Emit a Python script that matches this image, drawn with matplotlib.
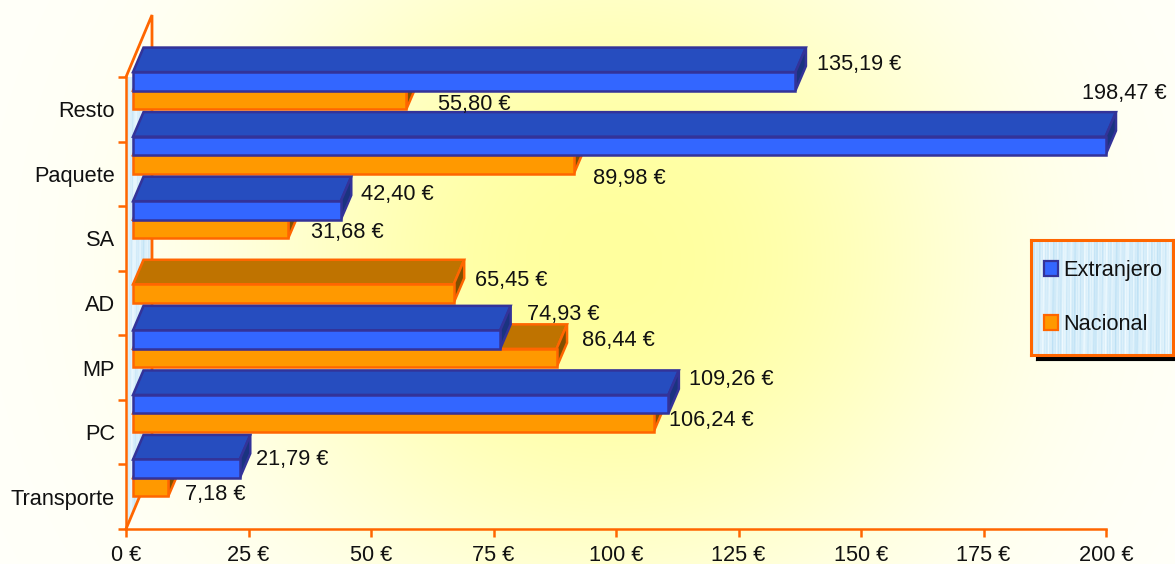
import numpy as np
import matplotlib
matplotlib.use("Agg")
import matplotlib.pyplot as plt
from matplotlib.patches import Polygon, Patch

plt.rcParams['font.family'] = ['Liberation Sans', 'DejaVu Sans']

# data
categories = ['Transporte', 'PC', 'MP', 'AD', 'SA', 'Paquete', 'Resto']
extranjero = [21.79, 109.26, 74.93, np.nan, 42.40, 198.47, 135.19]
nacional = [7.18, 106.24, 86.44, 65.45, 31.68, 89.98, 55.80]
xticks = [0, 25, 50, 75, 100, 125, 150, 175, 200]

# label offsets from the bar end, in pixels
extOffsets = [(16, 9), (21, 25), (27, 25), (0, 0), (20, 16), (-24, 52), (22, 17)]
nacOffsets = [(17, -7), (15, 2), (25, 18), (21, 13), (23, -4), (19, -14), (32, -5)]

# figure geometry in pixels
W, H = 1175, 564
left, right, bottom, top = 126, 1106, 529, 77
pxX = (right - left) / 200
pxY = (bottom - top) / 7

# 3d look
depthX = 10.5 / pxX
depthY = 24.5 / pxY
shiftX = 7 / pxX
shiftY = 0.29
barH = 18.5 / pxY
wallX = 26 / pxX
wallY = 62 / pxY

ORANGE = '#FF6600'
TEXT = '#111111'
FS = 15.7
blue = dict(front='#3366FF', top='#264DBF', side='#1A3380', edge='#333399')
orange = dict(front='#FF9900', top='#BF7300', side='#805000', edge='#FF6600')


def waterTexture(w, h):
    # pale blue vertical streaks
    x = np.arange(w)[None, :]
    y = np.arange(h)[:, None]
    s = (np.sin(x * 0.9 + 0.012 * y) + 0.7 * np.sin(x * 2.3 + 1 + 0.02 * y)
         + 0.6 * np.sin(x * 0.31 + 0.008 * y) + 0.4 * np.sin(x * 4.1 + y * 0.03))
    s = (s - s.min()) / (s.max() - s.min())
    light = np.array([0.95, 0.985, 1.0])
    dark = np.array([0.74, 0.88, 0.96])
    return light[None, None, :] * (1 - s[..., None]) + dark[None, None, :] * s[..., None]


def drawBar(ax, value, y, style, z):
    if np.isnan(value):
        return
    x0 = shiftX
    x1 = shiftX + value
    y1 = y + barH
    edge = style['edge']
    ax.add_patch(Polygon([(x0, y1), (x1, y1), (x1 + depthX, y1 + depthY), (x0 + depthX, y1 + depthY)],
                         closed=True, fc=style['top'], ec=edge, lw=1.8, zorder=z, clip_on=False))
    ax.add_patch(Polygon([(x1, y), (x1, y1), (x1 + depthX, y1 + depthY), (x1 + depthX, y + depthY)],
                         closed=True, fc=style['side'], ec=edge, lw=1.8, zorder=z, clip_on=False))
    ax.barh(y, value, height=barH, left=x0, align='edge', color=style['front'], edgecolor=edge,
            linewidth=1.8, zorder=z + 0.1, clip_on=False)


fig = plt.figure(figsize=(W / 100, H / 100), dpi=100)

# background gradient
axBg = fig.add_axes([0, 0, 1, 1])
axBg.axis('off')
gx, gy = np.meshgrid(np.arange(W), np.arange(H))
r = np.sqrt(((gx - 610) / 340) ** 2 + ((gy - 260) / 320) ** 2)
t = np.exp(-r ** 2.4 * 0.9)[..., None]
edgeCol = np.array([1.0, 1.0, 0.98])
midCol = np.array([1.0, 1.0, 0.62])
axBg.imshow(edgeCol * (1 - t) + midCol * t, aspect='auto')

# main axes
ax = fig.add_axes([left / W, 1 - bottom / H, (right - left) / W, (bottom - top) / H])
ax.patch.set_visible(False)
ax.set_xlim(0, 200)
ax.set_ylim(0, 7)

# side wall
wall = Polygon([(0, 0), (wallX, wallY), (wallX, 7 + wallY), (0, 7)], closed=True, fc='none',
               ec='none', transform=ax.transData)
ax.add_patch(wall)
wall.set_clip_on(False)
im = ax.imshow(waterTexture(30, 520), extent=(0, wallX, 0, 7 + wallY), aspect='auto', zorder=1,
               interpolation='bilinear')
im.set_clip_path(wall)
ax.set_xlim(0, 200)
ax.set_ylim(0, 7)
ax.plot([0, wallX, wallX], [7, 7 + wallY, wallY], color=ORANGE, lw=2, zorder=2, clip_on=False,
        solid_joinstyle='miter')
ax.plot([0, wallX], [0, wallY], color=ORANGE, lw=2, zorder=2, clip_on=False)

# bars, back to front
z = 3
for k in range(len(categories) - 1, -1, -1):
    yBase = k + 0.5 + shiftY
    drawBar(ax, nacional[k], yBase - barH, orange, z)
    drawBar(ax, extranjero[k], yBase, blue, z + 1)
    z += 2

# value labels
for k in range(len(categories)):
    yBase = k + 0.5 + shiftY
    for value, off, yc in ((extranjero[k], extOffsets[k], yBase + barH / 2),
                           (nacional[k], nacOffsets[k], yBase - barH / 2)):
        if np.isnan(value):
            continue
        ax.annotate(f'{value:.2f} €'.replace('.', ','), (value + shiftX, yc), xytext=off,
                    textcoords='offset pixels', ha='left', va='center', fontsize=FS,
                    color=TEXT, zorder=50, annotation_clip=False)

# axes
for s in ('top', 'right'):
    ax.spines[s].set_visible(False)
for s in ('left', 'bottom'):
    ax.spines[s].set_color(ORANGE)
    ax.spines[s].set_linewidth(1.8)
    ax.spines[s].set_zorder(2.5)
ax.set_xticks(xticks)
ax.set_xticklabels([f'{v} €' for v in xticks])
ax.set_yticks(range(8))
ax.set_yticklabels([])
ax.set_yticks(np.arange(7) + 0.5, minor=True)
ax.set_yticklabels(categories, minor=True)
ax.tick_params(axis='both', which='major', length=6, width=1.8, color=ORANGE, labelsize=FS,
               labelcolor=TEXT)
ax.tick_params(axis='x', which='major', pad=5.5)
ax.tick_params(axis='y', which='minor', length=0, pad=8, labelsize=FS, labelcolor=TEXT)

# legend box
legL, legR, legT, legB = 1031, 1173, 240, 355
axShadow = fig.add_axes([(legL + 5) / W, 1 - (legB + 5) / H, (legR - legL) / W, (legB - legT) / H], zorder=5)
axShadow.set_facecolor('black')
axShadow.set_xticks([])
axShadow.set_yticks([])
axLeg = fig.add_axes([legL / W, 1 - legB / H, (legR - legL) / W, (legB - legT) / H], zorder=6)
axLeg.imshow(waterTexture(142, 115), aspect='auto', interpolation='bilinear')
axLeg.set_xticks([])
axLeg.set_yticks([])
for s in axLeg.spines.values():
    s.set_color(ORANGE)
    s.set_linewidth(2.2)
handles = [Patch(fc=blue['front'], ec=blue['edge'], lw=1.6, label='Extranjero'),
           Patch(fc=orange['front'], ec=orange['edge'], lw=1.6, label='Nacional')]
axLeg.legend(handles=handles, loc='center left', frameon=False, fontsize=FS, handlelength=0.66,
             handleheight=0.66, handletextpad=0.25, labelspacing=1.5, borderaxespad=0, borderpad=0,
             bbox_to_anchor=(0.09, 0.5), labelcolor=TEXT)

fig.savefig('out.png', dpi=100)
